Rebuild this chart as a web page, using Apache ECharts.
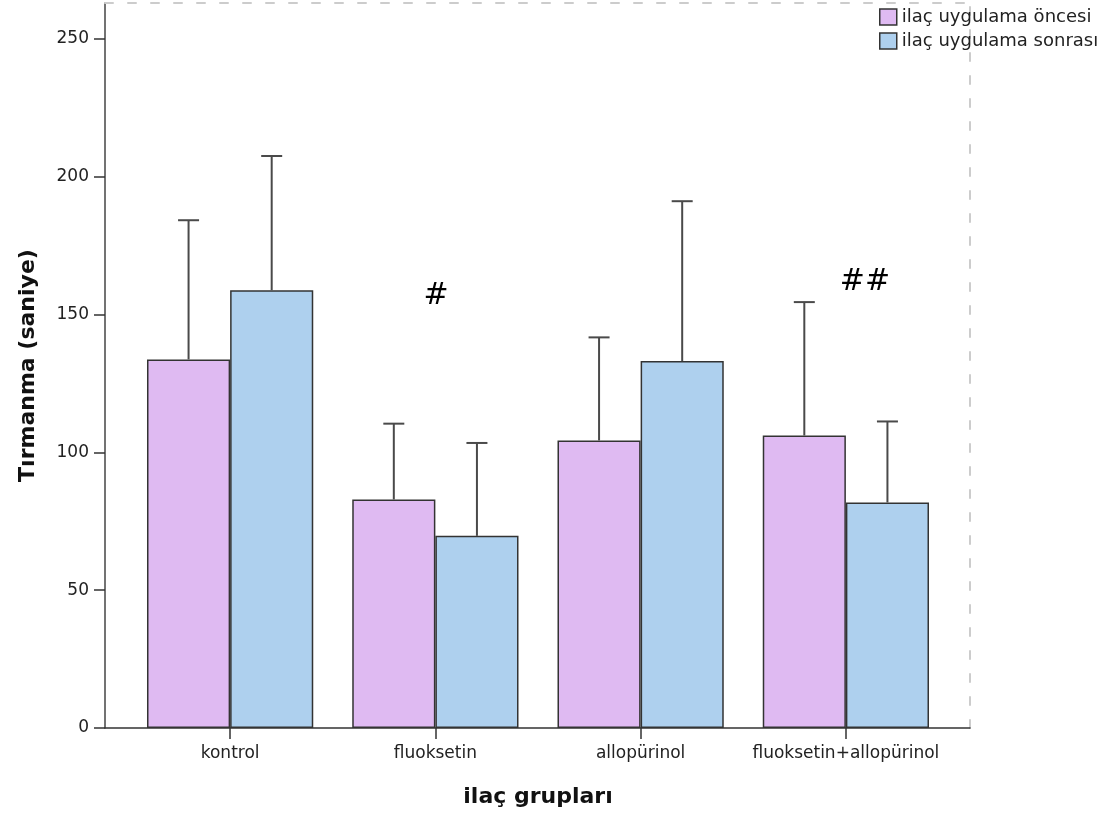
<!DOCTYPE html>
<html>
<head>
<meta charset="utf-8">
<script src="https://cdn.jsdelivr.net/npm/echarts@6/dist/echarts.min.js"></script>
<style>
html,body{margin:0;padding:0;background:#fff;}
#chart{width:1113px;height:819px;}
</style>
</head>
<body>
<div id="chart"></div>
<script>
// Data
var categories = ['kontrol', 'fluoksetin', 'allopürinol', 'fluoksetin+allopürinol'];
var seriesNames = ['ilaç uygulama öncesi', 'ilaç uygulama sonrası'];
var beforeMeans = [133.7, 82.9, 104.3, 106.1];
var afterMeans = [158.8, 69.7, 133.1, 81.8];
var beforeUpper = [184.2, 110.4, 141.7, 154.5];
var afterUpper = [207.5, 103.4, 191.1, 111.2];
var yTicks = [0, 50, 100, 150, 200, 250];
var annotations = [{ text: '#', x: 436, y: 296 }, { text: '##', x: 865, y: 282 }];

var Y_MAX = 263;
var FONT = '"DejaVu Sans", sans-serif';

function errData(means, uppers, side) {
  return categories.map(function (c, i) { return [i, means[i], uppers[i], side]; });
}

function renderErr(params, api) {
  var idx = api.value(0);
  var band = api.size([1, 0])[0];
  var barW = band * 0.81 / 2;
  var side = api.value(3);
  var pBase = api.coord([idx, api.value(1)]);
  var pTop = api.coord([idx, api.value(2)]);
  var x = pBase[0] + side * barW / 2;
  var cap = 10.5;
  var style = { stroke: '#4a4a4a', lineWidth: 2 };
  return {
    type: 'group',
    children: [
      { type: 'line', shape: { x1: x, y1: pBase[1], x2: x, y2: pTop[1] }, style: style },
      { type: 'line', shape: { x1: x - cap, y1: pTop[1], x2: x + cap, y2: pTop[1] }, style: style }
    ]
  };
}

var chart = echarts.init(document.getElementById('chart'), null, { renderer: 'canvas' });
var option = {
  animation: false,
  backgroundColor: '#ffffff',
  textStyle: { fontFamily: FONT },
  legend: {
    orient: 'vertical',
    left: 879,
    top: 8,
    padding: 0,
    itemWidth: 17,
    itemHeight: 16,
    itemGap: 6,
    icon: 'rect',
    data: seriesNames,
    textStyle: { fontFamily: FONT, fontSize: 18, color: '#222' },
    itemStyle: { borderColor: '#333', borderWidth: 1.5 }
  },
  grid: [
    { left: 105, right: 143, top: 3, bottom: 91, containLabel: false },
    { left: 127.5, right: 164.5, top: 3, bottom: 91, containLabel: false }
  ],
  xAxis: [
    {
      gridIndex: 0, type: 'value', min: 0, max: 1, position: 'bottom',
      axisLine: { show: true, onZero: false, lineStyle: { color: '#333', width: 1.5 } },
      axisTick: { show: false }, axisLabel: { show: false }, splitLine: { show: false }
    },
    {
      gridIndex: 0, type: 'value', min: 0, max: 1, position: 'top',
      axisLine: { show: true, onZero: false, lineStyle: { color: '#cccccc', width: 2, type: [8, 15] } },
      axisTick: { show: false }, axisLabel: { show: false }, splitLine: { show: false }
    },
    {
      gridIndex: 1, type: 'category', data: categories, position: 'bottom',
      axisLine: { show: false, onZero: false },
      axisTick: { show: true, alignWithLabel: true, length: 11, lineStyle: { color: '#333', width: 1.5 } },
      axisLabel: { fontFamily: FONT, fontSize: 17, color: '#222', margin: 17, interval: 0 },
      name: 'ilaç grupları',
      nameLocation: 'middle',
      nameGap: 58,
      nameTextStyle: { fontFamily: FONT, fontSize: 22, fontWeight: 'bold', color: '#111' }
    }
  ],
  yAxis: [
    {
      gridIndex: 0, type: 'value', min: 0, max: Y_MAX, interval: 50, position: 'left',
      axisLine: { show: true, onZero: false, lineStyle: { color: '#444', width: 1.5 } },
      axisTick: { show: true, length: 11, customValues: yTicks, lineStyle: { color: '#333', width: 1.5 } },
      axisLabel: { fontFamily: FONT, fontSize: 17, color: '#222', margin: 16, customValues: yTicks },
      splitLine: { show: false },
      name: 'Tırmanma (saniye)',
      nameLocation: 'middle',
      nameGap: 66,
      nameTextStyle: { fontFamily: FONT, fontSize: 22, fontWeight: 'bold', color: '#111' }
    },
    {
      gridIndex: 0, type: 'value', min: 0, max: Y_MAX, position: 'right',
      axisLine: { show: true, onZero: false, lineStyle: { color: '#cccccc', width: 2, type: [8, 15] } },
      axisTick: { show: false }, axisLabel: { show: false }, splitLine: { show: false }
    },
    {
      gridIndex: 1, type: 'value', min: 0, max: Y_MAX, show: false, splitLine: { show: false }
    }
  ],
  series: [
    {
      name: seriesNames[0], type: 'bar', xAxisIndex: 2, yAxisIndex: 2,
      data: beforeMeans, barGap: '0%', barCategoryGap: '19%',
      itemStyle: { color: '#dfbaf2', borderColor: '#333', borderWidth: 1.5 },
      z: 2
    },
    {
      name: seriesNames[1], type: 'bar', xAxisIndex: 2, yAxisIndex: 2,
      data: afterMeans, barGap: '0%', barCategoryGap: '19%',
      itemStyle: { color: '#aed0ee', borderColor: '#333', borderWidth: 1.5 },
      z: 2
    },
    {
      type: 'custom', xAxisIndex: 2, yAxisIndex: 2, renderItem: renderErr,
      data: errData(beforeMeans, beforeUpper, -1), z: 3, silent: true
    },
    {
      type: 'custom', xAxisIndex: 2, yAxisIndex: 2, renderItem: renderErr,
      data: errData(afterMeans, afterUpper, 1), z: 3, silent: true
    }
  ],
  graphic: annotations.map(function (a) {
    return {
      type: 'text', x: a.x, y: a.y, z: 10,
      style: { text: a.text, fontFamily: FONT, fontSize: 30, fill: '#000', align: 'center', verticalAlign: 'middle' }
    };
  })
};
chart.setOption(option);
</script>
</body>
</html>
